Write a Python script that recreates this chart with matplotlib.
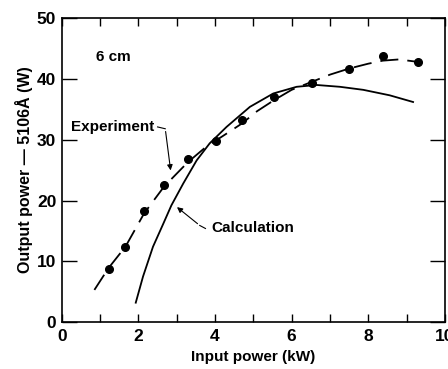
import matplotlib
matplotlib.use("Agg")
import matplotlib.pyplot as plt
from matplotlib.ticker import MultipleLocator

# Data
exp_x = [1.22, 1.66, 2.15, 2.67, 3.29, 4.02, 4.71, 5.54, 6.52, 7.50, 8.38, 9.29]
exp_y = [8.8, 12.3, 18.2, 22.6, 26.8, 29.8, 33.3, 37.0, 39.3, 41.6, 43.8, 42.8]

fit_x = [0.85, 1.22, 1.66, 2.15, 2.67, 3.29, 3.76, 4.30, 4.71, 5.10, 5.54, 6.00, 6.52, 7.00, 7.50, 8.00, 8.38, 8.80, 9.29]
fit_y = [5.3, 8.9, 12.4, 17.9, 22.3, 26.3, 28.8, 31.0, 32.7, 34.7, 36.5, 38.2, 39.5, 40.7, 41.7, 42.5, 43.0, 43.2, 42.8]

calc_x = [1.93, 2.12, 2.38, 2.65, 2.86, 3.17, 3.52, 3.86, 4.30, 4.91, 5.52, 6.13, 6.65, 7.26, 7.87, 8.56, 9.17]
calc_y = [3.2, 7.5, 12.4, 16.2, 19.2, 22.8, 26.6, 29.4, 32.1, 35.4, 37.6, 38.7, 39.0, 38.7, 38.2, 37.3, 36.2]

xticks = [0, 2, 4, 6, 8, 10]
yticks = [0, 10, 20, 30, 40, 50]

plt.rcParams['font.family'] = ['Liberation Sans', 'DejaVu Sans']
plt.rcParams['font.weight'] = 'bold'

fig = plt.figure(figsize=(4.48, 3.69), dpi=100)
ax = fig.add_axes([0.138, 0.127, 0.855, 0.824])

ax.plot(fit_x, fit_y, color='black', lw=1.3, dashes=(10, 5))
ax.plot(calc_x, calc_y, color='black', lw=1.3)
ax.plot(exp_x, exp_y, 'o', color='black', ms=5.5)

ax.set_xlim(0, 10)
ax.set_ylim(0, 50)
ax.set_xticks(xticks)
ax.set_yticks(yticks)
ax.xaxis.set_minor_locator(MultipleLocator(1))
ax.tick_params(axis='x', which='both', direction='in', top=True, length=6, width=1, labelsize=12.5, pad=5)
ax.tick_params(axis='y', which='major', direction='in', right=True, length=11, width=1, labelsize=12.5, pad=4)
for s in ax.spines.values():
    s.set_linewidth(1.2)

ax.set_xlabel('Input power (kW)', fontsize=11, fontweight='bold', labelpad=4)
ax.set_ylabel('Output power — 5106Å (W)', fontsize=11.5, fontweight='bold', labelpad=3)

ax.text(0.9, 43.6, '6 cm', fontsize=11, fontweight='bold', ha='left', va='center')
ax.text(0.25, 32.1, 'Experiment', fontsize=11, fontweight='bold', ha='left', va='center')
ax.plot([2.5, 2.7], [32.1, 31.8], color='black', lw=0.8)
ax.annotate('', xy=(2.85, 24.5), xytext=(2.7, 31.8),
            arrowprops=dict(arrowstyle='-|>', color='black', lw=0.8, mutation_scale=8))
ax.text(3.9, 15.4, 'Calculation', fontsize=11, fontweight='bold', ha='left', va='center')
ax.plot([3.75, 3.6], [15.4, 15.9], color='black', lw=0.8)
ax.annotate('', xy=(2.95, 19.2), xytext=(3.6, 15.9),
            arrowprops=dict(arrowstyle='-|>', color='black', lw=0.8, mutation_scale=8))

fig.savefig('out.png', dpi=100)
